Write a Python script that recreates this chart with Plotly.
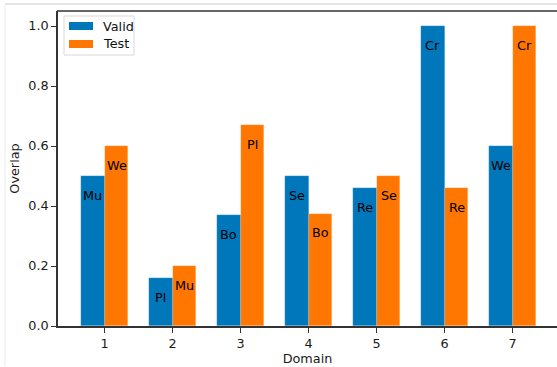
import plotly.graph_objects as go

# Overlap per domain for the validation and test splits
domains = [1, 2, 3, 4, 5, 6, 7]
valid_overlap = [0.50, 0.16, 0.37, 0.50, 0.46, 1.00, 0.60]
test_overlap = [0.60, 0.20, 0.67, 0.375, 0.50, 0.46, 1.00]
valid_labels = ["Mu", "Pl", "Bo", "Se", "Re", "Cr", "We"]
test_labels = ["We", "Mu", "Pl", "Bo", "Se", "Re", "Cr"]
y_ticks = [0.0, 0.2, 0.4, 0.6, 0.8, 1.0]

BLUE = "#0077BB"
ORANGE = "#FF7700"
BAR_W = 0.35
FONT = "DejaVu Sans"
FS = 12.8

W, H = 557, 367
ML, MT, MB, MR = 58, 11, 41, 0
PW, PH = W - ML - MR, H - MT - MB


def px_x(x):
    return (x - ML) / PW


def px_y(y):
    return 1 - (y - MT) / PH


valid_x = [d - BAR_W / 2 for d in domains]
test_x = [d + BAR_W / 2 for d in domains]

fig = go.Figure()
fig.add_trace(go.Bar(x=valid_x, y=valid_overlap, width=BAR_W, name="Valid",
                     marker=dict(color=BLUE, line=dict(color="rgba(255,255,255,0.35)", width=0.5)),
                     hoverinfo="skip", showlegend=False))
fig.add_trace(go.Bar(x=test_x, y=test_overlap, width=BAR_W, name="Test",
                     marker=dict(color=ORANGE, line=dict(color="rgba(255,255,255,0.35)", width=0.5)),
                     hoverinfo="skip", showlegend=False))

annotations = []
for xs, ys, labels in ((valid_x, valid_overlap, valid_labels),
                       (test_x, test_overlap, test_labels)):
    for x, y, t in zip(xs, ys, labels):
        annotations.append(dict(x=x, y=y, xref="x", yref="y", text=t, showarrow=False,
                                yshift=-19, font=dict(family=FONT, size=FS, color="#000")))

shapes = [
    # top spine
    dict(type="line", xref="paper", yref="paper", x0=-0.002, x1=1.0, y0=1, y1=1,
         line=dict(color="#333", width=1.5)),
    # legend frame with wide colour patches
    dict(type="rect", xref="paper", yref="paper",
         x0=px_x(64), x1=px_x(134), y0=px_y(55), y1=px_y(16),
         line=dict(color="#d8d8d8", width=1), fillcolor="rgba(255,255,255,0.85)"),
    dict(type="rect", xref="paper", yref="paper",
         x0=px_x(69), x1=px_x(93), y0=px_y(30), y1=px_y(22),
         line=dict(width=0), fillcolor=BLUE),
    dict(type="rect", xref="paper", yref="paper",
         x0=px_x(69), x1=px_x(93), y0=px_y(48), y1=px_y(40),
         line=dict(width=0), fillcolor=ORANGE),
    # thin frame around the figure
    dict(type="line", xref="paper", yref="paper",
         x0=px_x(5), x1=px_x(557), y0=px_y(4), y1=px_y(4),
         line=dict(color="#cccccc", width=1)),
    dict(type="line", xref="paper", yref="paper",
         x0=px_x(5), x1=px_x(5), y0=px_y(4), y1=px_y(366),
         line=dict(color="#ececec", width=1)),
]
for name, yc in (("Valid", 26), ("Test", 44)):
    annotations.append(dict(x=px_x(101), y=px_y(yc), xref="paper", yref="paper",
                            xanchor="left", yanchor="middle", text=name, showarrow=False,
                            font=dict(family=FONT, size=FS, color="#111")))

x_left = 0.3147
x_right = x_left + PW / 68.0

fig.update_layout(
    width=W, height=H,
    margin=dict(l=ML, r=MR, t=MT, b=MB),
    paper_bgcolor="white", plot_bgcolor="white",
    barmode="overlay", bargap=0,
    font=dict(family=FONT, size=FS, color="#1a1a1a"),
    shapes=shapes, annotations=annotations,
    xaxis=dict(range=[x_left, x_right], tickvals=domains, ticktext=[str(d) for d in domains],
               showgrid=False, zeroline=False, showline=True, linecolor="#333", linewidth=1.5,
               mirror=False, ticks="outside", ticklen=5, tickcolor="#333", tickwidth=1,
               title=dict(text="Domain", standoff=4, font=dict(family=FONT, size=FS))),
    yaxis=dict(range=[0, 1.05], tickvals=y_ticks, ticktext=[f"{v:.1f}" for v in y_ticks],
               showgrid=False, zeroline=False, showline=True, linecolor="#333", linewidth=1.5,
               mirror=False, ticks="outside", ticklen=5, tickcolor="#333", tickwidth=1,
               title=dict(text="Overlap", standoff=6, font=dict(family=FONT, size=FS))),
)

fig.write_html("out.html")
